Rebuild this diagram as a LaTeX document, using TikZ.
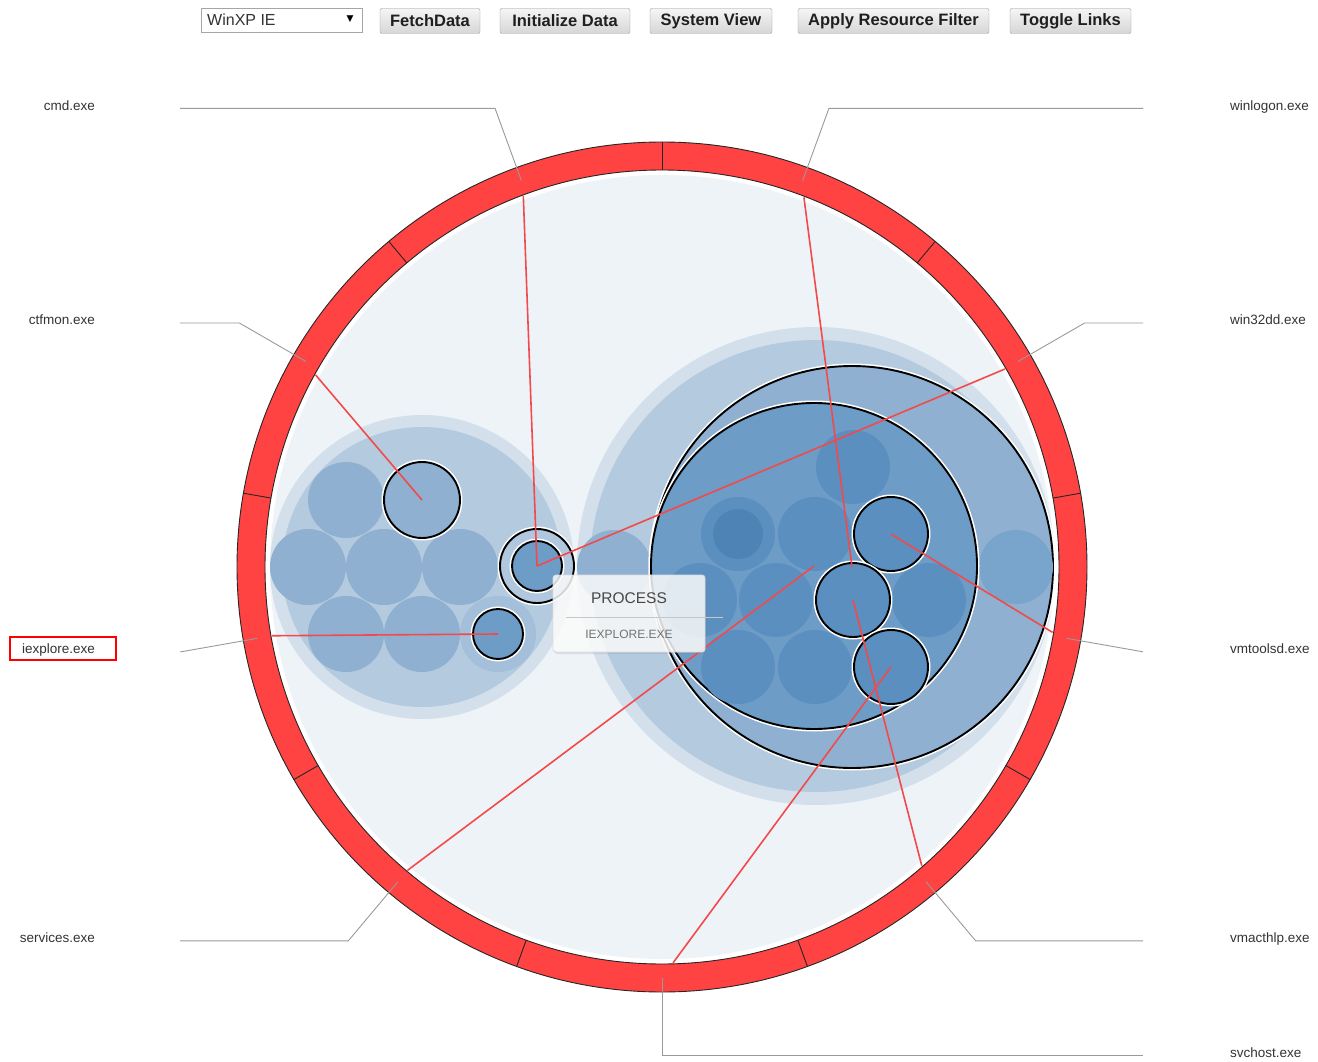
\documentclass[tikz,border=0pt]{standalone}
\usepackage{fontspec}
\setmainfont{Liberation Sans}
\newfontfamily\djv{DejaVu Sans}
\usetikzlibrary{calc,shadows}
\definecolor{ringred}{HTML}{FF4343}
\definecolor{bgpale}{HTML}{EEF3F8}
\definecolor{clout}{HTML}{D3E0EC}
\definecolor{clin}{HTML}{B4CADF}
\definecolor{lt}{HTML}{8FB0D0}
\definecolor{md}{HTML}{6D9CC6}
\definecolor{dk}{HTML}{5B8FC0}
\definecolor{dkk}{HTML}{4E83B6}
\definecolor{iexpale}{HTML}{A3BFD9}
\definecolor{linkred}{HTML}{F24A4A}
\definecolor{leadgrey}{HTML}{9A9A9A}
\begin{document}
\begin{tikzpicture}[x=1pt,y=-1pt,
  blob/.style={circle, inner sep=0pt, outer sep=0pt},
  hl/.style={draw=black, line width=1.9pt, preaction={draw=white, line width=5pt}},
  ringline/.style={draw=black!85, line width=0.9pt},
  leader/.style={draw=leadgrey, line width=0.9pt},
  link/.style={draw=linkred, line width=1.6pt},
  lbl/.style={font=\fontsize{13.5}{15}\selectfont, text=black!80, inner sep=0pt},
  btn/.style={draw=black!40, rounded corners=2pt, top color=white!96!black, bottom color=black!16,
    minimum height=25pt, inner sep=0pt, font=\fontsize{16.5}{18}\selectfont\bfseries, text=black!88}
]
\useasboundingbox (0,0) rectangle (1318,1062);
\coordinate (C) at (662,567);
\coordinate (LX) at (180,0);
\coordinate (RX) at (1143,0);

% ---- top controls ----
\node[draw=black!35, fill=white, minimum width=161pt, minimum height=24pt, inner sep=0pt] (dd) at (281.5,20) {};
\node[anchor=west, inner sep=0pt, font=\fontsize{16}{18}\selectfont, text=black!80] (ddt) at (207,20) {WinXP IE};
\node[inner sep=0pt, font=\djv\fontsize{9}{11}\selectfont] (dda) at (350,19.5) {▼};
\node[btn, minimum width=100pt] (b1) at (430,21) {FetchData};
\node[btn, minimum width=130pt] (b2) at (565,21) {Initialize Data};
\node[btn, minimum width=122pt] (b3) at (711,21) {System View};
\node[btn, minimum width=191pt] (b4) at (893.5,21) {Apply Resource Filter};
\node[btn, minimum width=121pt] (b5) at (1070.5,21) {Toggle Links};

% ---- ring ----
\fill[bgpale] (C) circle (392);
\fill[ringred, even odd rule] (C) circle (425) (C) circle (397);
\draw[ringline] (C) circle (425);
\draw[ringline] (C) circle (397);
\foreach \p in {-90,-50,...,230} \draw[ringline] ($(C)+(\p:397)$) -- ($(C)+(\p:425)$);

% ---- leaders and labels ----
\foreach \p/\nm in {-110/cmd,-150/ctf,170/iex,130/srv}{
  \coordinate (k\nm) at ($(C)+(\p:488)$);
  \draw[leader] ($(C)+(\p:411)$) -- (k\nm) -- (k\nm -| LX);
}
\foreach \p/\nm in {-70/win,-30/w32,10/vmt,50/vma}{
  \coordinate (k\nm) at ($(C)+(\p:488)$);
  \draw[leader] ($(C)+(\p:411)$) -- (k\nm) -- (k\nm -| RX);
}
\coordinate (ksvc) at ($(C)+(90:488)$);
\draw[leader] ($(C)+(90:411)$) -- (ksvc) -- (ksvc -| RX);

\node[lbl, anchor=base east] (tcmd) at (95,110.5) {cmd.exe};
\node[lbl, anchor=base east] (tctf) at (95,324.5) {ctfmon.exe};
\node[lbl, anchor=base east] (tiex) at (95,653.5) {iexplore.exe};
\node[lbl, anchor=base east] (tsrv) at (95,942.5) {services.exe};
\node[lbl, anchor=base west] (twin) at (1230,110.5) {winlogon.exe};
\node[lbl, anchor=base west] (tw32) at (1230,324.5) {win32dd.exe};
\node[lbl, anchor=base west] (tvmt) at (1230,653.5) {vmtoolsd.exe};
\node[lbl, anchor=base west] (tvma) at (1230,942.5) {vmacthlp.exe};
\node[lbl, anchor=base west] (tsvc) at (1230,1057.5) {svchost.exe};
\draw[draw=red, line width=2pt] (10,637) rectangle (116,660);

% ---- left cluster ----
\node[blob, fill=clout, minimum size=304pt] (L0) at (422,567) {};
\node[blob, fill=clin, minimum size=280pt] (L1) at (422,567) {};
\foreach \x/\y [count=\i] in {346/500,308/567,384/567,460/567,346/634,422/634}
  \node[blob, fill=lt, minimum size=76pt] (lc\i) at (\x,\y) {};
\node[blob, fill=lt, hl, minimum size=76pt] (ctf) at (422,500) {};
\node[blob, fill=iexpale, minimum size=76pt] (iexp) at (498,634) {};
\node[blob, fill=md, hl, minimum size=50pt] (iexc) at (498,634) {};
\node[blob, fill=clin!90!lt, hl, minimum size=74pt] (dblo) at (537,566) {};
\node[blob, fill=md, hl, minimum size=50pt] (dbli) at (537,566) {};

% ---- right cluster ----
\node[blob, fill=clout, minimum size=478pt] (R0) at (816,566) {};
\node[blob, fill=clin, minimum size=452pt] (R1) at (816,566) {};
\node[blob, fill=lt, minimum size=74pt] (rs1) at (614,567) {};
\node[blob, fill=lt, hl, minimum size=402pt] (B1) at (852,567) {};
\node[blob, fill=md!92!white, minimum size=74pt] (rs2) at (1016,567) {};
\node[blob, fill=md, hl, minimum size=326pt] (B2) at (814,566) {};
\foreach \x/\y [count=\i] in {853/467,738/534,815/534,700/600,776/600,929/600,738/667,815/667}
  \node[blob, fill=dk, minimum size=74pt] (rc\i) at (\x,\y) {};
\node[blob, fill=dkk, minimum size=50pt] (rcin) at (738,534) {};
\node[blob, fill=dk, hl, minimum size=74pt] (vmt) at (891,534) {};
\node[blob, fill=dk, hl, minimum size=74pt] (vma) at (853,600) {};
\node[blob, fill=dk, hl, minimum size=74pt] (svc) at (891,667) {};

% ---- links ----
\coordinate (pcmd) at ($(C)+(-110.5:396)$);
\coordinate (pwin) at ($(C)+(-69:396)$);
\coordinate (pctf) at ($(C)+(-151:396)$);
\coordinate (pw32) at ($(C)+(-30:396)$);
\coordinate (piex) at ($(C)+(170:396)$);
\coordinate (pvmt) at ($(C)+(9.5:396)$);
\coordinate (psrv) at ($(C)+(130:396)$);
\coordinate (pvma) at ($(C)+(49:396)$);
\coordinate (psvc) at ($(C)+(88.4:396)$);
\draw[link] (pcmd) -- (dbli.center);
\draw[link] (pw32) -- (dbli.center);
\draw[link] (pwin) -- (B1.center);
\draw[link] (pctf) -- (ctf.center);
\draw[link] (piex) -- (iexc.center);
\draw[link] (pvmt) -- (vmt.center);
\draw[link] (psrv) -- (B2.center);
\draw[link] (psvc) -- (svc.center);
\draw[link] (pvma) -- (vma.center);

% ---- tooltip ----
\node[rectangle, rounded corners=3pt, fill=white, fill opacity=0.82, draw=black!14, line width=0.8pt,
  minimum width=152pt, minimum height=77pt, drop shadow={opacity=0.18, shadow xshift=1pt, shadow yshift=-2pt}] (tt) at (629,613.5) {};
\node[inner sep=0pt, font=\fontsize{15.5}{17}\selectfont, text=black!72] (ttp) at (629,598) {PROCESS};
\draw[draw=black!22, line width=0.9pt] (566,617) -- (723,617);
\node[inner sep=0pt, font=\fontsize{12}{14}\selectfont, text=black!55] (tte) at (629,634) {IEXPLORE.EXE};
\end{tikzpicture}
\end{document}
